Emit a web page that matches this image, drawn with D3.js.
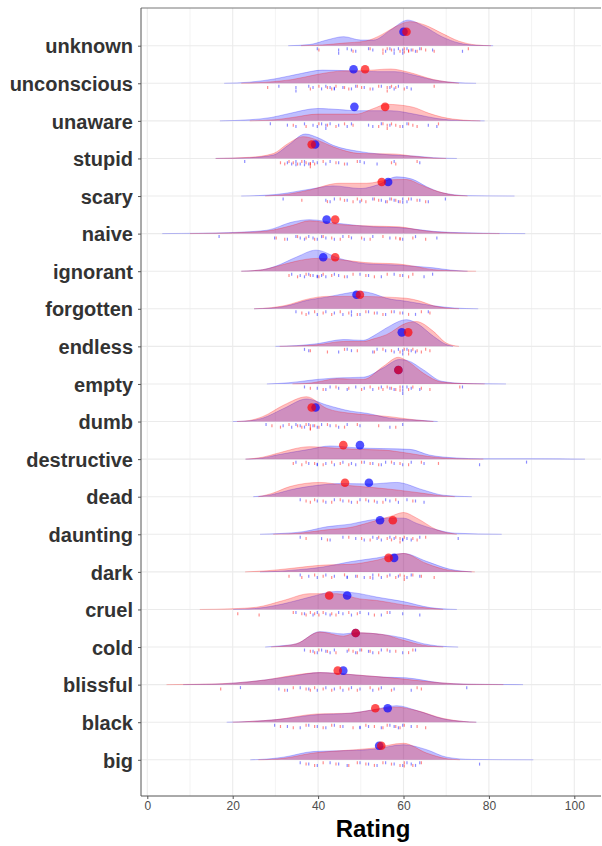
<!DOCTYPE html>
<meta charset="utf-8">
<title>Rating by word</title>
<style>
body { margin: 0; background: white; }
svg { font-family: "Liberation Sans", Arial, sans-serif; }
.ylab text { font-size: 20px; font-weight: bold; fill: #333; }
.xax text { font-size: 12px; fill: #4d4d4d; }
</style>
<body>
<div id="chart"></div>
<script src="https://d3js.org/d3.v7.min.js"></script>
<script>
// words, top to bottom
const words = ["unknown", "unconscious", "unaware", "stupid", "scary", "naive", "ignorant",
  "forgotten", "endless", "empty", "dumb", "destructive", "dead", "daunting", "dark",
  "cruel", "cold", "blissful", "black", "big"];

const blueMean = [60.0, 48.3, 48.5, 39.3, 56.4, 42.0, 41.2, 49.0, 59.6, 58.8,
  39.4, 49.8, 51.9, 54.5, 57.8, 46.8, 48.8, 45.9, 56.3, 54.3];
const redMean = [60.7, 51.0, 55.7, 38.5, 54.9, 44.0, 44.0, 49.8, 61.1, 58.8,
  38.5, 45.9, 46.3, 57.5, 56.5, 42.6, 48.8, 44.6, 53.4, 54.8];

// density outlines: [rating, height in row units]
const blueDensity = [
  [[33,0],[38,0.03],[42,0.15],[46,0.24],[50,0.15],[53,0.15],[57,0.42],[61,0.68],[65,0.5],[69,0.24],[73,0.07],[77,0.01],[81,0]],
  [[18,0],[24,0.03],[30,0.12],[36,0.26],[41,0.35],[48,0.33],[54,0.31],[58,0.31],[63,0.2],[67,0.09],[72,0.02],[77,0]],
  [[17,0],[24,0.03],[29,0.09],[33,0.19],[40,0.33],[45,0.3],[49,0.27],[57,0.27],[63,0.17],[68,0.06],[73,0.01],[79,0]],
  [[16,0],[24,0.02],[29.5,0.09],[33,0.35],[37,0.65],[40,0.55],[43.5,0.35],[50,0.18],[57.5,0.09],[63,0.06],[67,0.02],[72.5,0]],
  [[22,0],[30,0.04],[38,0.18],[43.5,0.27],[50,0.2],[54,0.3],[58.4,0.51],[62,0.45],[65.4,0.25],[69,0.09],[75,0.01],[86,0]],
  [[3.5,0],[12,0.01],[20,0.03],[28,0.09],[34,0.31],[38,0.37],[45,0.27],[53,0.18],[59,0.16],[64,0.1],[67,0.06],[75,0.02],[88.5,0]],
  [[22,0],[27,0.04],[30,0.13],[35,0.38],[39.5,0.56],[45,0.34],[51,0.2],[59,0.16],[64,0.12],[67,0.09],[71,0.03],[75,0]],
  [[25,0],[29,0.02],[32,0.06],[38,0.24],[42,0.31],[46,0.4],[50,0.46],[53,0.4],[56,0.28],[60.7,0.2],[67,0.08],[72,0.02],[77.5,0]],
  [[30,0],[35,0.02],[39.7,0.07],[45.9,0.18],[50.6,0.16],[53,0.28],[56,0.49],[60.7,0.71],[63,0.62],[67,0.27],[70,0.05],[71.6,0]],
  [[28,0],[33,0.03],[39.7,0.12],[44.4,0.16],[50.6,0.18],[55.3,0.43],[59,0.65],[61,0.62],[64.6,0.38],[69,0.07],[75,0.01],[84,0]],
  [[20,0],[24,0.02],[27,0.09],[32,0.35],[37.3,0.6],[42,0.44],[47.5,0.28],[51.4,0.22],[56.8,0.09],[63,0.04],[68,0]],
  [[23,0],[27,0.03],[30.3,0.11],[38,0.26],[42.8,0.35],[49,0.3],[55.3,0.28],[61.5,0.26],[66,0.11],[72.5,0.03],[78,0.01],[90,0.01],[102.5,0]],
  [[24.8,0],[29,0.05],[33.4,0.18],[40.4,0.31],[45.9,0.35],[52.2,0.34],[58.4,0.38],[64.6,0.18],[69.3,0.04],[76,0]],
  [[26.4,0],[31,0.02],[36.5,0.07],[42,0.2],[47.5,0.27],[52.2,0.38],[56.8,0.43],[60,0.43],[63.1,0.29],[67.8,0.12],[72,0.03],[83,0]],
  [[26.4,0],[30,0.01],[33.4,0.04],[41.2,0.13],[47.5,0.27],[53.7,0.37],[60,0.49],[65.4,0.28],[70.9,0.07],[76,0]],
  [[20.1,0],[25.6,0.03],[31.9,0.15],[38.1,0.33],[44.4,0.48],[49.8,0.42],[53.7,0.33],[60,0.21],[66.2,0.05],[72.5,0]],
  [[27.6,0],[31,0.03],[35,0.09],[40.4,0.41],[45.9,0.35],[49,0.38],[55.3,0.33],[60,0.24],[64.6,0.09],[68,0.03],[72.8,0]],
  [[8.4,0],[15,0.01],[20.1,0.04],[28,0.13],[34.2,0.23],[40.4,0.32],[47.5,0.27],[55.3,0.2],[60.7,0.18],[68.5,0.05],[76,0.01],[88,0]],
  [[18.6,0],[24,0.02],[30.3,0.07],[39.7,0.2],[47.5,0.24],[52.9,0.33],[58.4,0.44],[63.1,0.31],[69.3,0.09],[74,0.02],[77.1,0]],
  [[24.1,0],[28,0.02],[31.9,0.07],[38.9,0.22],[45.1,0.24],[52.9,0.28],[60,0.4],[65.4,0.27],[70.1,0.07],[76,0.01],[90.4,0]]
];
const redDensity = [
  [[36,0],[41,0.02],[46,0.07],[51,0.12],[55,0.3],[58,0.5],[61.5,0.64],[65,0.55],[69,0.33],[73,0.12],[77,0.02],[80.5,0]],
  [[22,0],[28,0.03],[34,0.1],[40,0.24],[46,0.33],[51,0.34],[57,0.38],[61,0.3],[67,0.1],[73,0]],
  [[24,0],[30,0.03],[34,0.09],[40,0.18],[49,0.18],[53,0.33],[56,0.44],[62,0.37],[66,0.2],[69,0.1],[74,0.02],[78,0]],
  [[16,0],[24,0.03],[29.5,0.13],[33,0.4],[36.5,0.58],[40,0.48],[43.5,0.31],[50,0.13],[57.5,0.12],[63,0.05],[67,0.01],[70,0]],
  [[27.6,0],[33,0.05],[38,0.16],[45,0.34],[51.4,0.34],[56.8,0.43],[60.7,0.44],[64,0.3],[67,0.16],[71,0.04],[75,0]],
  [[10,0],[16,0.01],[22,0.03],[28,0.07],[34,0.22],[38,0.34],[45,0.24],[53,0.2],[59,0.18],[64,0.09],[67,0.05],[75,0.01],[82.5,0]],
  [[22,0],[27,0.04],[30,0.12],[35,0.27],[39.5,0.34],[45,0.31],[51,0.23],[59,0.19],[63,0.12],[67,0.04],[72,0.01],[77,0]],
  [[25,0],[29,0.03],[32,0.08],[38,0.27],[42,0.33],[50,0.33],[56,0.31],[60.7,0.28],[64,0.2],[67,0.08],[70,0.02],[73,0]],
  [[31,0],[35,0.01],[39.7,0.04],[45.9,0.13],[50.6,0.13],[53,0.2],[56,0.31],[60.7,0.62],[63,0.66],[67,0.4],[70,0.09],[73,0]],
  [[34,0],[37,0.01],[39.7,0.05],[44.4,0.14],[50.6,0.12],[55.3,0.47],[58.8,0.71],[61,0.6],[64.6,0.29],[69,0.05],[74,0.01],[79,0]],
  [[21,0],[24,0.03],[27,0.13],[32,0.44],[37.3,0.66],[42,0.35],[47.5,0.22],[51.4,0.18],[56.8,0.13],[63,0.04],[67,0]],
  [[23,0],[27,0.05],[30.3,0.15],[38,0.33],[42.8,0.3],[49,0.26],[55.3,0.24],[61.5,0.15],[66,0.07],[72.5,0.01],[78.7,0]],
  [[26,0],[29,0.08],[33.4,0.27],[40.4,0.38],[45.9,0.31],[52.2,0.25],[58.4,0.18],[64.6,0.09],[69.3,0.02],[72,0]],
  [[29.5,0],[33,0.01],[36.5,0.04],[42,0.12],[47.5,0.18],[52.2,0.32],[56.8,0.47],[60,0.58],[63.1,0.43],[67.8,0.12],[72.5,0]],
  [[22.9,0],[28,0.03],[33.4,0.09],[41.2,0.18],[47.5,0.2],[53.7,0.31],[60,0.49],[65.4,0.22],[70.9,0.04],[76.7,0]],
  [[12.3,0],[20,0.02],[25.6,0.06],[31.9,0.24],[38.1,0.42],[44.4,0.42],[49.8,0.28],[53.7,0.24],[60,0.12],[66.2,0.03],[69.3,0]],
  [[29,0],[32,0.03],[35,0.09],[40.4,0.4],[45.9,0.29],[49,0.38],[55.3,0.33],[60,0.18],[64.6,0.05],[69.3,0]],
  [[4.5,0],[12,0.01],[20.1,0.04],[28,0.13],[34.2,0.25],[40.4,0.32],[47.5,0.27],[55.3,0.2],[60.7,0.14],[68.5,0.05],[75,0.01],[83.4,0]],
  [[20,0],[24,0.02],[30.3,0.07],[39.7,0.22],[47.5,0.24],[52.9,0.33],[58.4,0.4],[63.1,0.31],[69.3,0.1],[74,0.02],[77,0]],
  [[26,0],[29,0.01],[31.9,0.04],[38.9,0.18],[45.1,0.24],[52.9,0.31],[60,0.44],[65.4,0.18],[70.1,0.03],[73.2,0]]
];

// individual ratings (rug)
const blueRug = [
  [40,45,45,47,48,49,52,53,56,57,58,58,59,60,60,61,62,63,64,67,74],
  [31,35,35,38,39,41,42,43,44,44,46,48,49,51,53,55,57,58,59,61,62],
  [29,33,35,37,39,40,41,42,42,43,45,47,48,52,53,55,57,60,61,66,68],
  [23,33,34,35,35,36,37,37,38,39,40,42,43,45,47,50,51,54,58,64],
  [32,42,43,44,47,50,53,55,56,57,58,59,60,60,61,62,64,66,70],
  [17,30,33,35,36,37,38,39,40,41,42,44,46,48,51,53,57,60,63,68],
  [34,36,37,38,39,40,40,41,42,44,45,47,50,52,55,58,60,65,67],
  [35,38,40,42,44,46,48,48,50,52,54,56,58,60,63,66],
  [37,38,45,47,48,53,54,56,58,59,60,60,61,62,63],
  [37,40,42,43,45,47,49,51,53,55,57,58,60,60,60,61,62,64,74],
  [28,32,34,35,36,37,38,39,40,41,43,45,47,50,57,60],
  [35,38,40,40,42,44,46,48,49,51,53,55,56,58,60,62,65,78,89],
  [36,40,42,44,46,48,50,52,54,56,57,59,61,63,65],
  [36,41,43,46,49,51,53,54,55,57,58,60,60,61,62,64,73],
  [36,38,40,42,44,47,47,49,51,53,53,55,57,59,61,62,64],
  [35,37,39,40,42,43,45,46,48,50,52,55,57,60,64],
  [37,39,40,41,42,43,44,47,49,50,52,53,55,57,60,63],
  [22,31,33,36,38,40,42,44,46,48,50,53,55,58,62,75],
  [30,33,36,38,40,42,44,46,50,50,52,55,57,58,59,60,62],
  [36,38,40,43,45,47,50,52,54,56,58,60,61,62,63,64,78]
];
const redRug = [
  [40,48,52,55,55,56,57,59,60,60,61,61,62,63,64,65,67,75],
  [28,38,40,42,43,44,46,47,49,50,52,54,56,56,57,58,60,67],
  [34,37,40,42,44,46,48,54,55,56,56,57,58,59,61,62,63,68],
  [31,32,33,34,35,36,37,38,38,38,39,41,44,46,49,57,58,63],
  [36,42,45,46,48,49,50,51,53,54,56,57,58,59,61,63,65],
  [30,32,35,37,39,41,43,45,47,50,52,55,58,59,59,62,65],
  [33,35,37,38,40,41,43,46,48,51,53,56,59,61,62],
  [36,37,39,41,43,45,47,49,51,53,55,57,59,61,64,66],
  [38,42,46,49,53,55,57,59,60,61,61,62,63,64,65,66],
  [38,41,44,47,50,52,54,55,56,57,58,59,59,61,62,64,66,73],
  [29,31,33,35,36,37,38,38,38,39,40,42,44,46,49,54,58],
  [34,36,37,39,41,43,45,47,50,52,54,57,59,61,64,68],
  [37,38,39,41,43,45,47,49,51,53,55,58,62],
  [37,42,47,50,52,54,56,57,58,59,59,60,62,63,65],
  [33,36,39,41,43,46,49,52,54,56,58,59,60,60,62,64,67],
  [21,26,34,36,37,38,39,40,41,43,44,47,49,53,56],
  [38,39,40,42,44,47,48,49,50,52,54,56,58,61,62],
  [17,32,34,37,38,39,41,43,45,47,49,52,54,57,63,64],
  [31,34,37,39,41,43,45,48,51,53,55,56,58,59,60,63,65],
  [37,39,41,44,47,49,51,53,55,57,59,60,60,62,64]
];

const xTicks = [0, 20, 40, 60, 80, 100];
const xMinor = [10, 30, 50, 70, 90];

const W = 602, H = 846;
const panel = {left: 141, right: 601, top: 8, bottom: 796};

const svg = d3.select("#chart").append("svg")
    .attr("width", W)
    .attr("height", H);

const x = d3.scaleLinear().domain([0, 100]).range([147.3, 574.3]);
const y = d3.scalePoint().domain(words).range([45.7, 759.8]);
const h = d3.scaleLinear().domain([0, 1]).range([0, 37.6]);

// grid
svg.append("g").selectAll("line").data(xMinor).join("line")
    .attr("x1", d => x(d)).attr("x2", d => x(d))
    .attr("y1", panel.top).attr("y2", panel.bottom)
    .attr("stroke", "#ebebeb").attr("stroke-width", 0.6);
svg.append("g").selectAll("line").data(xTicks).join("line")
    .attr("x1", d => x(d)).attr("x2", d => x(d))
    .attr("y1", panel.top).attr("y2", panel.bottom)
    .attr("stroke", "#ebebeb").attr("stroke-width", 1.1);
svg.append("g").selectAll("line").data(words).join("line")
    .attr("x1", panel.left).attr("x2", panel.right)
    .attr("y1", d => y(d)).attr("y2", d => y(d))
    .attr("stroke", "#ebebeb").attr("stroke-width", 1.1);

const groups = [
  {dens: blueDensity, rug: blueRug, mean: blueMean, col: "#0000ff"},
  {dens: redDensity, rug: redRug, mean: redMean, col: "#ff0000"}
];

words.forEach(function(w, i) {
  const base = y(w);
  const area = d3.area()
      .x(d => x(d[0]))
      .y0(base)
      .y1(d => base - h(d[1]))
      .curve(d3.curveMonotoneX);
  const line = d3.line()
      .x(d => x(d[0]))
      .y(d => base - h(d[1]))
      .curve(d3.curveMonotoneX);

  groups.forEach(function(g) {
    svg.append("path").datum(g.dens[i])
        .attr("d", area)
        .attr("fill", g.col).attr("fill-opacity", 0.25);
    svg.append("path").datum(g.dens[i])
        .attr("d", line)
        .attr("fill", "none")
        .attr("stroke", g.col).attr("stroke-opacity", 0.3).attr("stroke-width", 0.8);
  });

  // rug ticks, repeated values stack downwards
  const seen = {};
  groups.forEach(function(g, gi) {
    g.rug[i].forEach(function(v, j) {
      const key = Math.round(v) + "_" + gi;
      const k = seen[key] || 0;
      seen[key] = k + 1;
      const top = base + 1.5 + ((j + gi) % 3) * 1.3 + k * 2;
      svg.append("line")
          .attr("x1", x(v) + (gi ? 0.8 : -0.8)).attr("x2", x(v) + (gi ? 0.8 : -0.8))
          .attr("y1", top).attr("y2", top + 3)
          .attr("stroke", g.col).attr("stroke-opacity", 0.45).attr("stroke-width", 1.2);
    });
  });
});

// mean points
words.forEach(function(w, i) {
  groups.forEach(function(g) {
    svg.append("circle")
        .attr("cx", x(g.mean[i]))
        .attr("cy", y(w) - 14)
        .attr("r", 4.3)
        .attr("fill", g.col).attr("fill-opacity", 0.68);
  });
});

// panel frame
svg.append("line")
    .attr("x1", panel.left).attr("x2", panel.right)
    .attr("y1", panel.top).attr("y2", panel.top)
    .attr("stroke", "#777").attr("stroke-width", 1);

// axes
const xAxis = svg.append("g").attr("class", "xax")
    .attr("transform", "translate(0," + panel.bottom + ")")
    .call(d3.axisBottom(x).tickValues(xTicks).tickSize(3).tickPadding(2));
xAxis.select(".domain").remove();
xAxis.selectAll(".tick line").attr("stroke", "#555");
svg.append("line")
    .attr("x1", panel.left).attr("x2", panel.right)
    .attr("y1", panel.bottom).attr("y2", panel.bottom)
    .attr("stroke", "#555").attr("stroke-width", 1);

const yAxis = svg.append("g").attr("class", "ylab")
    .attr("transform", "translate(" + panel.left + ",0)")
    .call(d3.axisLeft(y).tickSize(3).tickPadding(5));
yAxis.select(".domain").remove();
yAxis.selectAll(".tick line").attr("stroke", "#555");
yAxis.selectAll("text").attr("font-family", null).attr("font-size", null).attr("fill", null).attr("dy", "0.36em");
xAxis.selectAll("text").attr("font-family", null).attr("font-size", null).attr("fill", null);
svg.append("line")
    .attr("x1", panel.left).attr("x2", panel.left)
    .attr("y1", panel.top).attr("y2", panel.bottom)
    .attr("stroke", "#555").attr("stroke-width", 1);

svg.append("text")
    .attr("x", (panel.left + panel.right) / 2 + 2)
    .attr("y", 837)
    .attr("text-anchor", "middle")
    .style("font-size", "24px")
    .style("font-weight", "bold")
    .attr("fill", "#000")
    .text("Rating");
</script>
</body>
